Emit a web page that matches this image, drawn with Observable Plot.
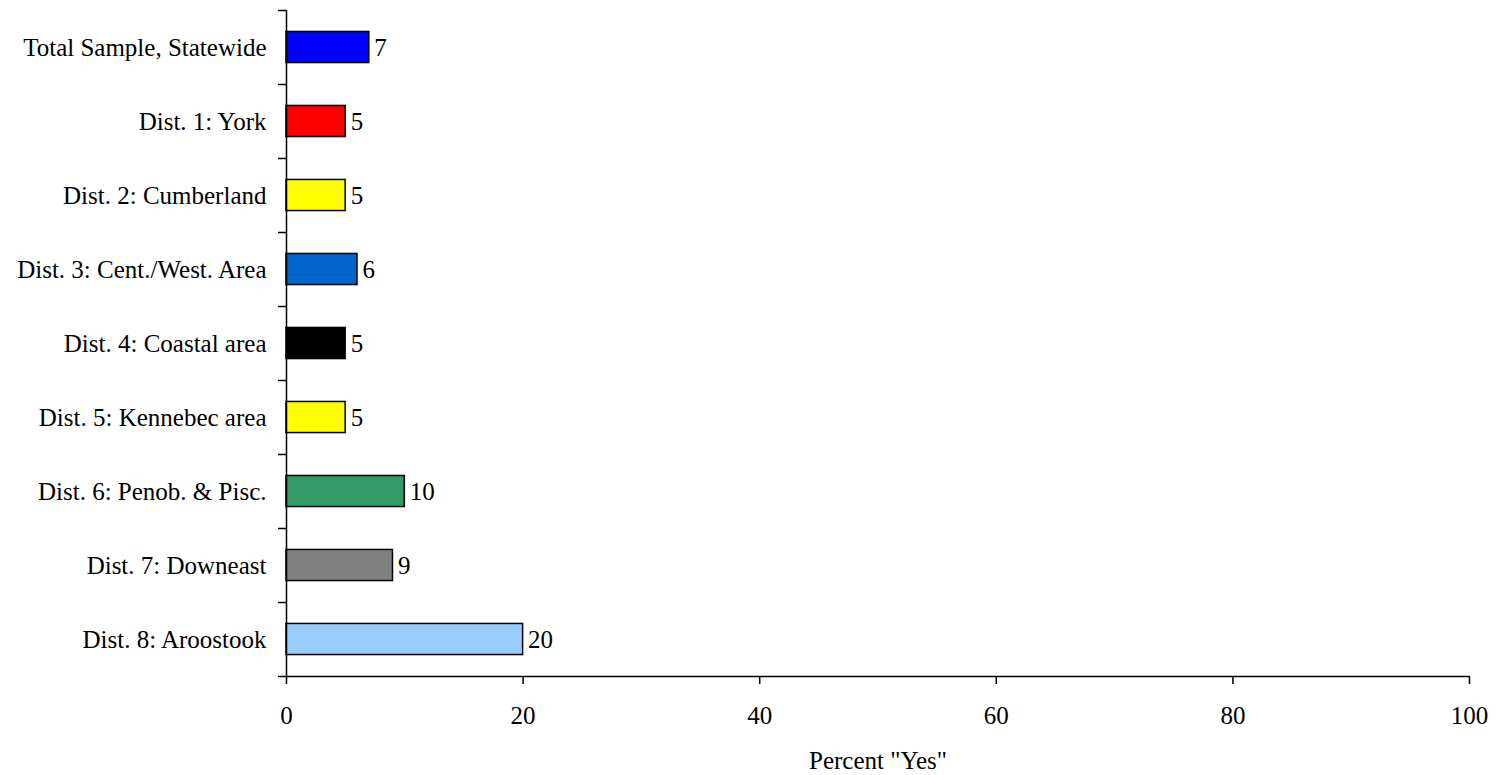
<!DOCTYPE html>
<html>
<head>
<meta charset="utf-8">
<script src="https://cdn.jsdelivr.net/npm/d3@7"></script>
<script src="https://cdn.jsdelivr.net/npm/@observablehq/plot@0.6"></script>
<style>
  html, body { margin: 0; padding: 0; background: #fff; }
  svg { display: block; }
</style>
</head>
<body>
<div id="chart"></div>
<script>
const categories = [
  "Total Sample, Statewide",
  "Dist. 1: York",
  "Dist. 2: Cumberland",
  "Dist. 3: Cent./West. Area",
  "Dist. 4: Coastal area",
  "Dist. 5: Kennebec area",
  "Dist. 6: Penob. & Pisc.",
  "Dist. 7: Downeast",
  "Dist. 8: Aroostook"
];
const values = [7, 5, 5, 6, 5, 5, 10, 9, 20];
const colors = ["#0000FF", "#FF0000", "#FFFF00", "#0066CC", "#000000", "#FFFF00", "#339966", "#808080", "#99CCFF"];
const xTicks = [0, 20, 40, 60, 80, 100];
const xLabel = 'Percent "Yes"';

const data = categories.map((c, i) => ({ category: c, value: values[i], color: colors[i], i }));
const half = 0.21; // half bar thickness in band units
const fs = 25;

const font = "'Liberation Serif', 'Times New Roman', serif";

const chart = Plot.plot({
  width: 1501,
  height: 775,
  marginLeft: 286,
  marginRight: 32,
  marginTop: 10,
  marginBottom: 99,
  style: { fontFamily: font, fontSize: fs + "px", color: "#000", background: "#fff" },
  x: { domain: [0, 100] },
  y: { domain: [categories.length, 0] },
  marks: [
    Plot.rectX(data, {
      x1: 0,
      x2: "value",
      y1: d => d.i + 0.5 - half,
      y2: d => d.i + 0.5 + half,
      fill: "color",
      stroke: "#000",
      strokeWidth: 1.5
    }),
    Plot.text(data, {
      x: "value",
      y: d => d.i + 0.5,
      text: d => String(d.value),
      textAnchor: "start",
      dx: 5,
      fill: "#000",
      fontSize: fs
    }),
    Plot.text(data, {
      x: 0,
      y: d => d.i + 0.5,
      text: "category",
      textAnchor: "end",
      dx: -20,
      fill: "#000",
      fontSize: fs
    }),
    Plot.axisY({
      ticks: d3.range(0, categories.length + 1),
      tickSize: 8,
      tickFormat: () => "",
      label: null,
      strokeWidth: 1.5
    }),
    Plot.axisX({
      ticks: xTicks,
      tickSize: 8,
      tickPadding: 22,
      label: null,
      fontSize: fs,
      strokeWidth: 1.5
    }),
    Plot.ruleX([0], { stroke: "#000", strokeWidth: 1.5 }),
    Plot.ruleY([categories.length], { stroke: "#000", strokeWidth: 1.5 }),
    Plot.text([xLabel], {
      frameAnchor: "bottom",
      dy: 84,
      lineAnchor: "middle",
      text: d => d,
      fill: "#000",
      fontSize: fs
    })
  ]
});
document.getElementById("chart").appendChild(chart);
</script>
</body>
</html>
